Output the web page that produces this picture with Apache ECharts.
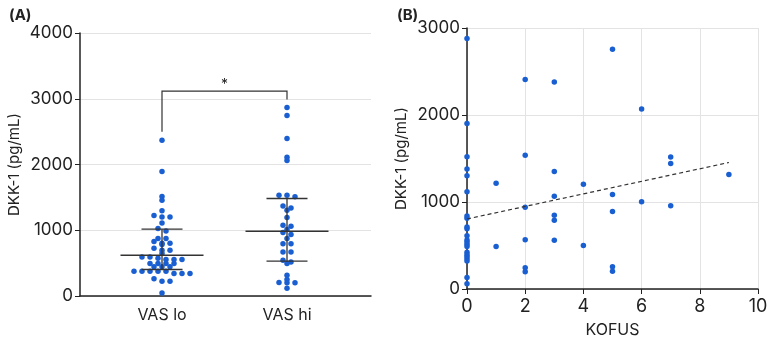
<!DOCTYPE html>
<html lang="en">
<head>
    <meta charset="UTF-8">
    <title>DKK-1</title>
    <script src="https://cdn.jsdelivr.net/npm/echarts@6/dist/echarts.min.js"></script>
</head>
<style>
    body{
        margin: 0;
        background: #fff;
    }
    #chart{
        width: 771px;
        height: 343px;
    }
</style>
<body>
    <div id="chart"></div>
    <script>
        // panel A: DKK-1 per VAS group
        var groups=['VAS lo','VAS hi'];
        var vasLo=[2370,1893,1513,1457,1295,1224,1200,1200,1112,1026,990,874,874,829,803,803,783,727,697,697,651,
                   595,595,575,555,555,555,494,494,494,494,443,443,443,377,377,377,377,377,342,342,342,261,225,225,47];
        var vasHi=[2867,2745,2395,2111,2060,1533,1508,1533,1370,1340,1305,1194,1077,1062,1011,965,935,874,793,793,
                   671,671,545,519,494,316,251,205,200,200,119];
        var medians=[620,985];
        var q1=[403,529];
        var q3=[1016,1483];
        var bracketY=[2500,3115,2990];   // left leg bottom, top, right leg bottom
        var sigLabel='*';

        // panel B: DKK-1 vs KOFUS
        var kofus=[0,0,0,0,0,0,0,0,0,0,0,0,0,0,0,0,0,0,0,0,0,0,
                   1,1, 2,2,2,2,2,2, 3,3,3,3,3,3, 4,4, 5,5,5,5,5, 6,6, 7,7,7, 9];
        var dkk=[2878,1901,1521,1379,1301,1118,839,813,712,693,611,563,541,515,489,421,395,373,347,321,131,60,
                 1216,489, 2409,1536,940,567,243,198, 2379,1350,1066,847,791,559, 1205,500, 2755,1085,891,257,205, 2069,1003, 1518,1443,958, 1316];
        var trendX=[0,9];
        var trendY=[805,1454];

        var font='Inter';
        var blue='#1a5fd1';
        var ink='#222';

        // simple dot-plot layout: values in the same row spread sideways
        function swarm(values,center,binSize,step){
            var sorted=values.slice().sort(function(a,b){return b-a});
            var rows=[];
            sorted.forEach(function(v){
                var r=rows[rows.length-1];
                if(r && r[0]-v<binSize) r.push(v);
                else rows.push([v]);
            });
            var pts=[];
            rows.forEach(function(r){
                r.forEach(function(v,i){
                    pts.push([center+(i-(r.length-1)/2)*step,v]);
                });
            });
            return pts;
        }

        var dotsA=swarm(vasLo,0,45,0.064).concat(swarm(vasHi,1,45,0.064));
        var statsData=groups.map(function(g,i){return [i,medians[i],q1[i],q3[i]]});
        var scatterB=kofus.map(function(k,i){return [k,dkk[i]]});
        var trendData=trendX.map(function(x,i){return [x,trendY[i]]});
        var plain=function(v){return String(v)};

        var chart=echarts.init(document.getElementById('chart'));
        chart.setOption({
            animation:false,
            textStyle:{fontFamily:font},
            title:[
                {text:'{p|(}{b|A}{p|)}',left:4,top:3,
                 textStyle:{rich:{p:{fontSize:15,color:ink,fontFamily:font},b:{fontSize:15,fontWeight:'bold',color:ink,fontFamily:font}}}},
                {text:'{p|(}{b|B}{p|)}',left:392,top:3,
                 textStyle:{rich:{p:{fontSize:15,color:ink,fontFamily:font},b:{fontSize:15,fontWeight:'bold',color:ink,fontFamily:font}}}}
            ],
            grid:[
                {left:80,right:400,top:33,bottom:47},
                {left:467,right:13,top:28,bottom:47}
            ],
            xAxis:[
                {
                    gridIndex:0,type:'value',min:-0.656,max:1.672,
                    axisLine:{lineStyle:{color:ink,width:1.5}},
                    axisTick:{show:false},
                    splitLine:{show:false},
                    axisLabel:{customValues:[0,1],formatter:function(v){return groups[Math.round(v)]},
                               color:ink,fontSize:16,margin:11}
                },
                {
                    gridIndex:1,type:'value',min:0,max:10,interval:2,
                    name:'KOFUS',nameLocation:'middle',nameGap:33,
                    nameTextStyle:{color:ink,fontSize:16},
                    axisLine:{onZero:false,lineStyle:{color:ink,width:1.5}},
                    axisTick:{show:true,length:5,lineStyle:{color:ink}},
                    splitLine:{show:true,lineStyle:{color:'#e3e3e3'}},
                    axisLabel:{color:ink,fontSize:18,margin:9}
                }
            ],
            yAxis:[
                {
                    gridIndex:0,type:'value',min:0,max:4000,interval:1000,
                    name:'DKK-1 (pg/mL)',nameLocation:'middle',nameGap:58,
                    nameTextStyle:{color:ink,fontSize:15},
                    axisLine:{show:true,onZero:false,lineStyle:{color:ink,width:1.5}},
                    axisTick:{show:true,length:5,lineStyle:{color:ink}},
                    splitLine:{lineStyle:{color:'#e3e3e3'}},
                    axisLabel:{color:ink,fontSize:17,margin:7,formatter:plain}
                },
                {
                    gridIndex:1,type:'value',min:0,max:3000,interval:1000,
                    name:'DKK-1 (pg/mL)',nameLocation:'middle',nameGap:58,
                    nameTextStyle:{color:ink,fontSize:15},
                    axisLine:{show:true,onZero:false,lineStyle:{color:ink,width:1.5}},
                    axisTick:{show:true,length:5,lineStyle:{color:ink}},
                    splitLine:{lineStyle:{color:'#e3e3e3'}},
                    axisLabel:{color:ink,fontSize:17,margin:7,formatter:plain}
                }
            ],
            series:[
                {
                    type:'scatter',xAxisIndex:0,yAxisIndex:0,
                    data:dotsA,symbolSize:5.5,
                    itemStyle:{color:blue,opacity:1}
                },
                {
                    // median with interquartile range
                    type:'custom',xAxisIndex:0,yAxisIndex:0,
                    data:statsData,z:3,
                    renderItem:function(params,api){
                        var x=api.value(0);
                        var mid=api.coord([x,api.value(1)]);
                        var lo=api.coord([x,api.value(2)]);
                        var hi=api.coord([x,api.value(3)]);
                        var wide=41.5,cap=20.5;
                        var style={stroke:'#333',lineWidth:1.3};
                        return {type:'group',children:[
                            {type:'line',shape:{x1:mid[0]-wide,y1:mid[1],x2:mid[0]+wide,y2:mid[1]},style:style},
                            {type:'line',shape:{x1:lo[0],y1:lo[1],x2:hi[0],y2:hi[1]},style:style},
                            {type:'line',shape:{x1:lo[0]-cap,y1:lo[1],x2:lo[0]+cap,y2:lo[1]},style:style},
                            {type:'line',shape:{x1:hi[0]-cap,y1:hi[1],x2:hi[0]+cap,y2:hi[1]},style:style}
                        ]};
                    }
                },
                {
                    // significance bracket between the two groups
                    type:'custom',xAxisIndex:0,yAxisIndex:0,
                    data:[[0,1,bracketY[0],bracketY[1],bracketY[2]]],z:3,
                    renderItem:function(params,api){
                        var a=api.coord([api.value(0),api.value(2)]);
                        var b=api.coord([api.value(0),api.value(3)]);
                        var c=api.coord([api.value(1),api.value(3)]);
                        var d=api.coord([api.value(1),api.value(4)]);
                        return {type:'group',children:[
                            {type:'polyline',shape:{points:[a,b,c,d]},style:{stroke:'#333',lineWidth:1.2,fill:null}},
                            {type:'text',x:(b[0]+c[0])/2,y:b[1]-6,
                             style:{text:sigLabel,fill:ink,fontSize:14,fontFamily:font,align:'center',verticalAlign:'middle'}}
                        ]};
                    }
                },
                {
                    type:'scatter',xAxisIndex:1,yAxisIndex:1,
                    data:scatterB,symbolSize:5.5,
                    itemStyle:{color:blue,opacity:1}
                },
                {
                    type:'line',xAxisIndex:1,yAxisIndex:1,
                    data:trendData,symbol:'none',
                    lineStyle:{color:'#333',width:1.2,type:[4,3]}
                }
            ]
        });
    </script>
</body>
</html>
